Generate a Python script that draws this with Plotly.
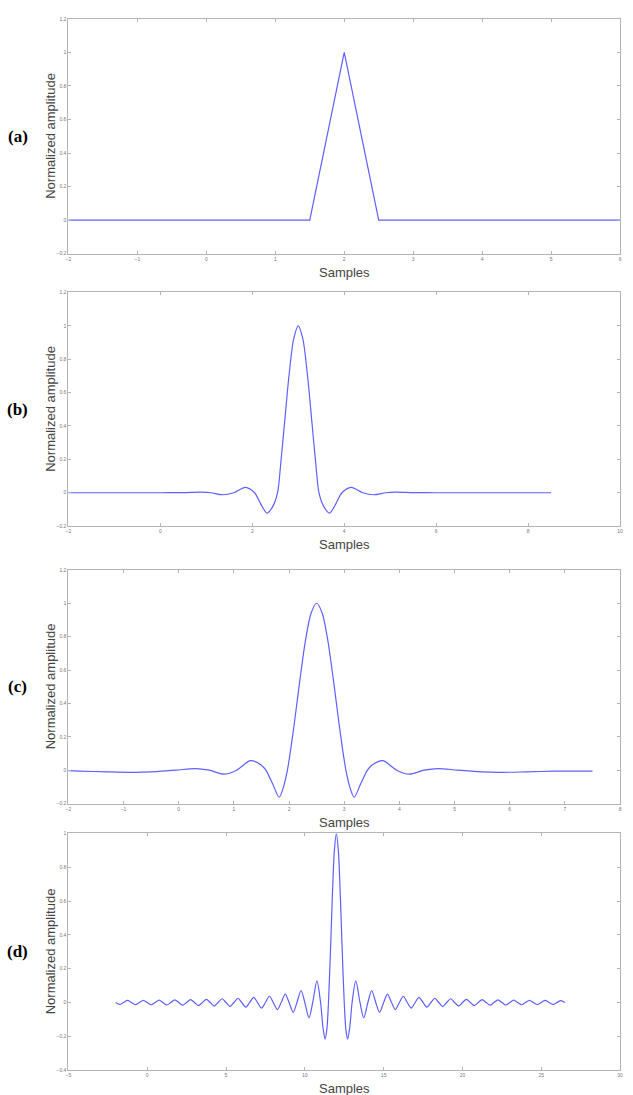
import plotly.graph_objects as go

# ---------------- data ----------------
# (a) triangular pulse
a_x = [-2, 1.5, 2.0, 2.5, 6]
a_y = [0, 0, 1.0, 0, 0]

# (b) windowed sinc centred at 3
b_x = [-2.0, -1.0, 0.0, 0.5, 0.9, 1.1, 1.35, 1.6, 1.85, 2.05, 2.18, 2.32, 2.45, 2.55,
       2.62, 2.7, 2.8, 2.9, 3.0, 3.1, 3.2, 3.3, 3.38, 3.45, 3.55, 3.68, 3.82, 3.95,
       4.15, 4.4, 4.65, 4.9, 5.1, 5.5, 6.0, 7.0, 8.5]
b_y = [0.0, 0.0, 0.0, 0.001, 0.004, 0.0, -0.012, 0.0, 0.032, 0.0, -0.065, -0.122, -0.08, 0.0,
       0.178, 0.413, 0.705, 0.921, 1.0, 0.921, 0.705, 0.413, 0.178, 0.0, -0.08, -0.122, -0.065, 0.0,
       0.032, 0.0, -0.012, 0.0, 0.004, 0.001, 0.0, 0.0, 0.0]

# (c) windowed sinc centred at 2.5
c_x = [-2.0, -1.8, -1.3, -0.8, -0.5, -0.05, 0.3, 0.55, 0.82, 1.05, 1.3, 1.5, 1.58, 1.7,
       1.82, 1.9, 1.97, 2.03, 2.1, 2.2, 2.3, 2.4, 2.5, 2.6, 2.7, 2.8, 2.9, 2.97,
       3.03, 3.1, 3.18, 3.3, 3.42, 3.5, 3.7, 3.95, 4.18, 4.45, 4.7, 5.05, 5.5, 5.8,
       6.3, 6.8, 7.5]
c_y = [-0.002, -0.005, -0.01, -0.013, -0.01, 0.0, 0.01, 0.0, -0.024, 0.0, 0.057, 0.03, 0.0, -0.08,
       -0.162, -0.1, 0.0, 0.125, 0.293, 0.55, 0.782, 0.942, 1.0, 0.942, 0.782, 0.55, 0.293, 0.125,
       0.0, -0.1, -0.162, -0.08, 0.0, 0.03, 0.057, 0.0, -0.024, 0.0, 0.01, 0.0, -0.01, -0.013,
       -0.01, -0.006, -0.005]

# (d) long sinc centred at 12
d_x = [-2.0, -1.75, -1.5, -1.25, -1.0, -0.75, -0.5, -0.25, 0.0, 0.25, 0.5, 0.75, 1.0, 1.25,
       1.5, 1.75, 2.0, 2.25, 2.5, 2.75, 3.0, 3.25, 3.5, 3.75, 4.0, 4.25, 4.5, 4.75,
       5.0, 5.255, 5.5, 5.755, 6.0, 6.255, 6.5, 6.755, 7.0, 7.255, 7.5, 7.755, 8.0, 8.26,
       8.5, 8.76, 9.0, 9.26, 9.5, 9.76, 10.0, 10.265, 10.5, 10.77, 11.0, 11.15, 11.285, 11.4,
       11.5, 11.625, 11.75, 11.875, 12.0, 12.125, 12.25, 12.375, 12.5, 12.6, 12.715, 12.85,
       13.0, 13.23, 13.5, 13.735, 14.0, 14.24, 14.5, 14.74, 15.0, 15.24, 15.5, 15.74,
       16.0, 16.245, 16.5, 16.745, 17.0, 17.245, 17.5, 17.745, 18.0, 18.245, 18.5, 18.745,
       19.0, 19.25, 19.5, 19.75, 20.0, 20.25, 20.5, 20.75, 21.0, 21.25, 21.5, 21.75,
       22.0, 22.25, 22.5, 22.75, 23.0, 23.25, 23.5, 23.75, 24.0, 24.25, 24.5, 24.75,
       25.0, 25.25, 25.5, 25.75, 26.0, 26.25, 26.5]
d_y = [0.0, -0.0116, 0.0, 0.012, 0.0, -0.0125, 0.0, 0.013, 0.0, -0.0135, 0.0, 0.014, 0.0, -0.015,
       0.0, 0.016, 0.0, -0.016, 0.0, 0.017, 0.0, -0.018, 0.0, 0.019, 0.0, -0.021, 0.0, 0.022,
       0.0, -0.024, 0.0, 0.025, 0.0, -0.028, 0.0, 0.030, 0.0, -0.033, 0.0, 0.037, 0.0, -0.042,
       0.0, 0.049, 0.0, -0.058, 0.0, 0.071, 0.0, -0.091, 0.0, 0.128, 0.0, -0.147, -0.217, -0.156,
       0.0, 0.30, 0.637, 0.90, 1.0, 0.90, 0.637, 0.30, 0.0, -0.156, -0.217, -0.147,
       0.0, 0.128, 0.0, -0.091, 0.0, 0.071, 0.0, -0.058, 0.0, 0.049, 0.0, -0.042,
       0.0, 0.037, 0.0, -0.033, 0.0, 0.030, 0.0, -0.028, 0.0, 0.025, 0.0, -0.024,
       0.0, 0.022, 0.0, -0.021, 0.0, 0.019, 0.0, -0.018, 0.0, 0.017, 0.0, -0.016,
       0.0, 0.016, 0.0, -0.015, 0.0, 0.014, 0.0, -0.0135, 0.0, 0.013, 0.0, -0.0125,
       0.0, 0.012, 0.0, -0.0116, 0.0, 0.011, 0.0]

panel_labels = ["(a)", "(b)", "(c)", "(d)"]
x_ranges = [[-2, 6], [-2, 10], [-2, 8], [-5, 30]]
x_dticks = [1, 2, 1, 5]
y_ranges = [[-0.2, 1.2], [-0.2, 1.2], [-0.2, 1.2], [-0.4, 1.0]]
xlabel = "Samples"
ylabel = "Normalized amplitude"

# ---------------- layout (pixels) ----------------
W, H = 633, 1095
left_px, right_px = 66, 623
panels_px = [(16, 252), (291, 526), (570, 805), (835, 1073)]

series = [(a_x, a_y, "linear"), (b_x, b_y, "spline"), (c_x, c_y, "spline"), (d_x, d_y, "spline")]

fig = go.Figure()
line_color = "rgb(95,95,255)"
axis_color = "#b4b4b4"
tick_font = dict(family="Arial", size=5, color="#777777")

annotations = []
for i, (xs, ys, shape) in enumerate(series):
    n = "" if i == 0 else str(i + 1)
    fig.add_trace(go.Scatter(x=xs, y=ys, mode="lines",
                             line=dict(color=line_color, width=1.2, shape=shape,
                                       smoothing=0.8 if shape == "spline" else None),
                             xaxis="x" + n, yaxis="y" + n, showlegend=False,
                             hoverinfo="skip"))
    top, bot = panels_px[i]
    ydom = [1 - bot / H, 1 - top / H]
    xdom = [left_px / W, right_px / W]
    common = dict(showgrid=False, zeroline=False, showline=True, linecolor=axis_color,
                  linewidth=1, mirror="ticks", ticks="inside", ticklen=3,
                  tickcolor=axis_color, tickfont=tick_font)
    fig.layout["xaxis" + n] = dict(domain=xdom, range=x_ranges[i], dtick=x_dticks[i],
                                   tick0=0, anchor="y" + n, ticklabelstandoff=0, **common)
    fig.layout["yaxis" + n] = dict(domain=ydom, range=y_ranges[i], dtick=0.2, tick0=0,
                                   anchor="x" + n, **common)
    mid_y = 1 - (top + bot) / 2 / H
    annotations.append(dict(text=ylabel, xref="paper", yref="paper", x=48 / W, y=mid_y,
                            textangle=-90, showarrow=False, xanchor="center", yanchor="middle",
                            font=dict(family="Arial", size=13, color="#444444")))
    annotations.append(dict(text=xlabel, xref="paper", yref="paper",
                            x=(left_px + right_px) / 2 / W, y=1 - (bot + 9) / H,
                            showarrow=False, xanchor="center", yanchor="top",
                            font=dict(family="Arial", size=13, color="#444444")))
    annotations.append(dict(text="<b>" + panel_labels[i] + "</b>", xref="paper", yref="paper",
                            x=15 / W, y=mid_y, showarrow=False, xanchor="center",
                            yanchor="middle",
                            font=dict(family="Liberation Serif", size=17, color="black")))

fig.update_layout(width=W, height=H, margin=dict(l=0, r=0, t=0, b=0),
                  paper_bgcolor="white", plot_bgcolor="white", annotations=annotations)

fig.write_html("out.html")
